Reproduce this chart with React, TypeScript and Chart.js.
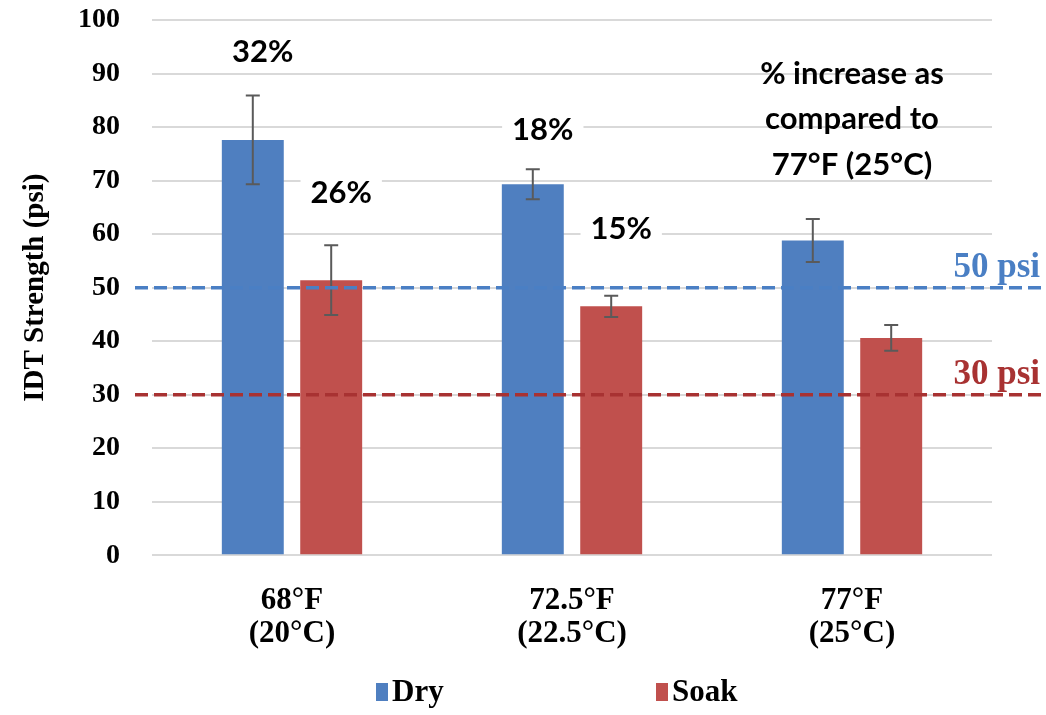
import React, { useEffect, useRef } from "react";
import { Chart, registerables } from "chart.js";

Chart.register(...registerables);

const categories: string[][] = [
  ["68°F", "(20°C)"],
  ["72.5°F", "(22.5°C)"],
  ["77°F", "(25°C)"],
];
const dryValues = [77.6, 69.3, 58.8];
const dryErrors = [8.3, 2.8, 4.0];
const soakValues = [51.4, 46.5, 40.6];
const soakErrors = [6.5, 2.0, 2.4];
const dryPctLabels = ["32%", "18%", ""];
const soakPctLabels = ["26%", "15%", ""];
const dryPctLabelY = [94, 79.4, 0];
const soakPctLabelY = [67.7, 61, 0];
const thresholds = [50, 30];
const thresholdLabels = ["50 psi", "30 psi"];
const noteLines = ["% increase as", "compared to", "77°F (25°C)"];
const noteY = [90, 81.5, 73];
const yTicks = [0, 10, 20, 30, 40, 50, 60, 70, 80, 90, 100];

const BLUE = "#4f7fc0";
const RED = "#c0504d";
const TH_COLORS = ["#4a7fc4", "#a83232"];
const SERIF = "'Liberation Serif', 'Times New Roman', serif";
const SANS = "Lato, 'Open Sans', sans-serif";

const overlayPlugin = {
  id: "overlay",
  beforeDatasetsDraw(chart: any) {
    const { ctx, scales } = chart;
    const y = scales.y;
    ctx.save();
    ctx.font = `bold 31px ${SANS}`;
    ctx.fillStyle = "#000";
    ctx.textAlign = "center";
    ctx.textBaseline = "middle";
    const x3 = scales.x.getPixelForValue(2);
    noteLines.forEach((t, i) => ctx.fillText(t, x3, y.getPixelForValue(noteY[i])));
    ctx.restore();
  },
  afterDatasetsDraw(chart: any) {
    const { ctx, scales, chartArea } = chart;
    const y = scales.y;
    ctx.save();
    // error bars
    [
      { vals: dryValues, errs: dryErrors, idx: 0 },
      { vals: soakValues, errs: soakErrors, idx: 1 },
    ].forEach(({ vals, errs, idx }) => {
      const meta = chart.getDatasetMeta(idx);
      meta.data.forEach((bar: any, i: number) => {
        const x = bar.x;
        const top = y.getPixelForValue(vals[i] + errs[i]);
        const bot = y.getPixelForValue(vals[i] - errs[i]);
        ctx.strokeStyle = "#5a5a5a";
        ctx.lineWidth = 2;
        ctx.beginPath();
        ctx.moveTo(x, top);
        ctx.lineTo(x, bot);
        ctx.moveTo(x - 7, top);
        ctx.lineTo(x + 7, top);
        ctx.moveTo(x - 7, bot);
        ctx.lineTo(x + 7, bot);
        ctx.stroke();
      });
    });
    // threshold lines
    thresholds.forEach((v, i) => {
      const py = y.getPixelForValue(v);
      ctx.strokeStyle = TH_COLORS[i];
      ctx.lineWidth = 3.5;
      ctx.setLineDash([13, 6]);
      ctx.beginPath();
      ctx.moveTo(chartArea.left - 17, py);
      ctx.lineTo(chart.width, py);
      ctx.stroke();
      ctx.setLineDash([]);
      ctx.font = `bold 35px ${SERIF}`;
      ctx.fillStyle = TH_COLORS[i];
      ctx.textAlign = "right";
      ctx.textBaseline = "alphabetic";
      ctx.fillText(thresholdLabels[i], chart.width - 6, py - 11);
    });
    // percent labels with white background
    ctx.font = `bold 31px ${SANS}`;
    ctx.textAlign = "center";
    ctx.textBaseline = "middle";
    [
      { labels: dryPctLabels, ys: dryPctLabelY, idx: 0 },
      { labels: soakPctLabels, ys: soakPctLabelY, idx: 1 },
    ].forEach(({ labels, ys, idx }) => {
      const meta = chart.getDatasetMeta(idx);
      meta.data.forEach((bar: any, i: number) => {
        if (!labels[i]) return;
        const x = bar.x + 10;
        const py = y.getPixelForValue(ys[i]);
        const w = ctx.measureText(labels[i]).width;
        ctx.fillStyle = "#fff";
        ctx.fillRect(x - w / 2 - 10, py - 20, w + 20, 40);
        ctx.fillStyle = "#000";
        ctx.fillText(labels[i], x, py);
      });
    });
    // legend
    const ly = 692;
    const items = [
      { label: "Dry", color: BLUE, x: 376 },
      { label: "Soak", color: RED, x: 656 },
    ];
    ctx.font = `bold 31px ${SERIF}`;
    ctx.textAlign = "left";
    ctx.textBaseline = "middle";
    items.forEach((it) => {
      ctx.fillStyle = it.color;
      ctx.fillRect(it.x, ly - 9, 12, 18);
      ctx.fillStyle = "#000";
      ctx.fillText(it.label, it.x + 16, ly + 1);
    });
    ctx.restore();
  },
};

export default function App() {
  const ref = useRef<HTMLCanvasElement>(null);
  useEffect(() => {
    if (!ref.current) return;
    const chart = new Chart(ref.current, {
      type: "bar",
      data: {
        labels: categories as any,
        datasets: [
          { label: "Dry", data: dryValues, backgroundColor: BLUE },
          { label: "Soak", data: soakValues, backgroundColor: RED },
        ],
      },
      options: {
        animation: false,
        responsive: false,
        maintainAspectRatio: false,
        categoryPercentage: 0.56,
        barPercentage: 0.79,
        layout: { padding: { left: 0, right: 54, top: 20, bottom: 36 } },
        plugins: {
          legend: { display: false },
          tooltip: { enabled: false },
        },
        scales: {
          x: {
            grid: { display: false, drawTicks: false },
            border: { display: false },
            ticks: {
              color: "#000",
              padding: 29,
              font: { family: SERIF, size: 31, weight: "bold", lineHeight: 1.06 },
            },
          },
          y: {
            min: 0,
            max: 100,
            afterBuildTicks: (scale: any) => {
              scale.ticks = yTicks.map((v) => ({ value: v }));
            },
            afterFit: (scale: any) => {
              scale.width = 152;
            },
            grid: {
              color: "#d9d9d9",
              lineWidth: 2,
              drawTicks: true,
              tickLength: 32,
              tickColor: "rgba(0,0,0,0)",
            },
            border: { display: false },
            ticks: {
              color: "#000",
              padding: 0,
              font: { family: SERIF, size: 28, weight: "bold" },
            },
            title: {
              display: true,
              text: "IDT Strength (psi)",
              color: "#000",
              padding: { top: 18, bottom: 0 },
              font: { family: SERIF, size: 29, weight: "bold" },
            },
          },
        },
      } as any,
      plugins: [overlayPlugin],
    });
    return () => chart.destroy();
  }, []);
  return (
    <div style={{ position: "fixed", left: 0, top: 0, width: 1046, height: 715, background: "#fff" }}>
      <canvas ref={ref} width={1046} height={715} style={{ width: 1046, height: 715 }} />
    </div>
  );
}
